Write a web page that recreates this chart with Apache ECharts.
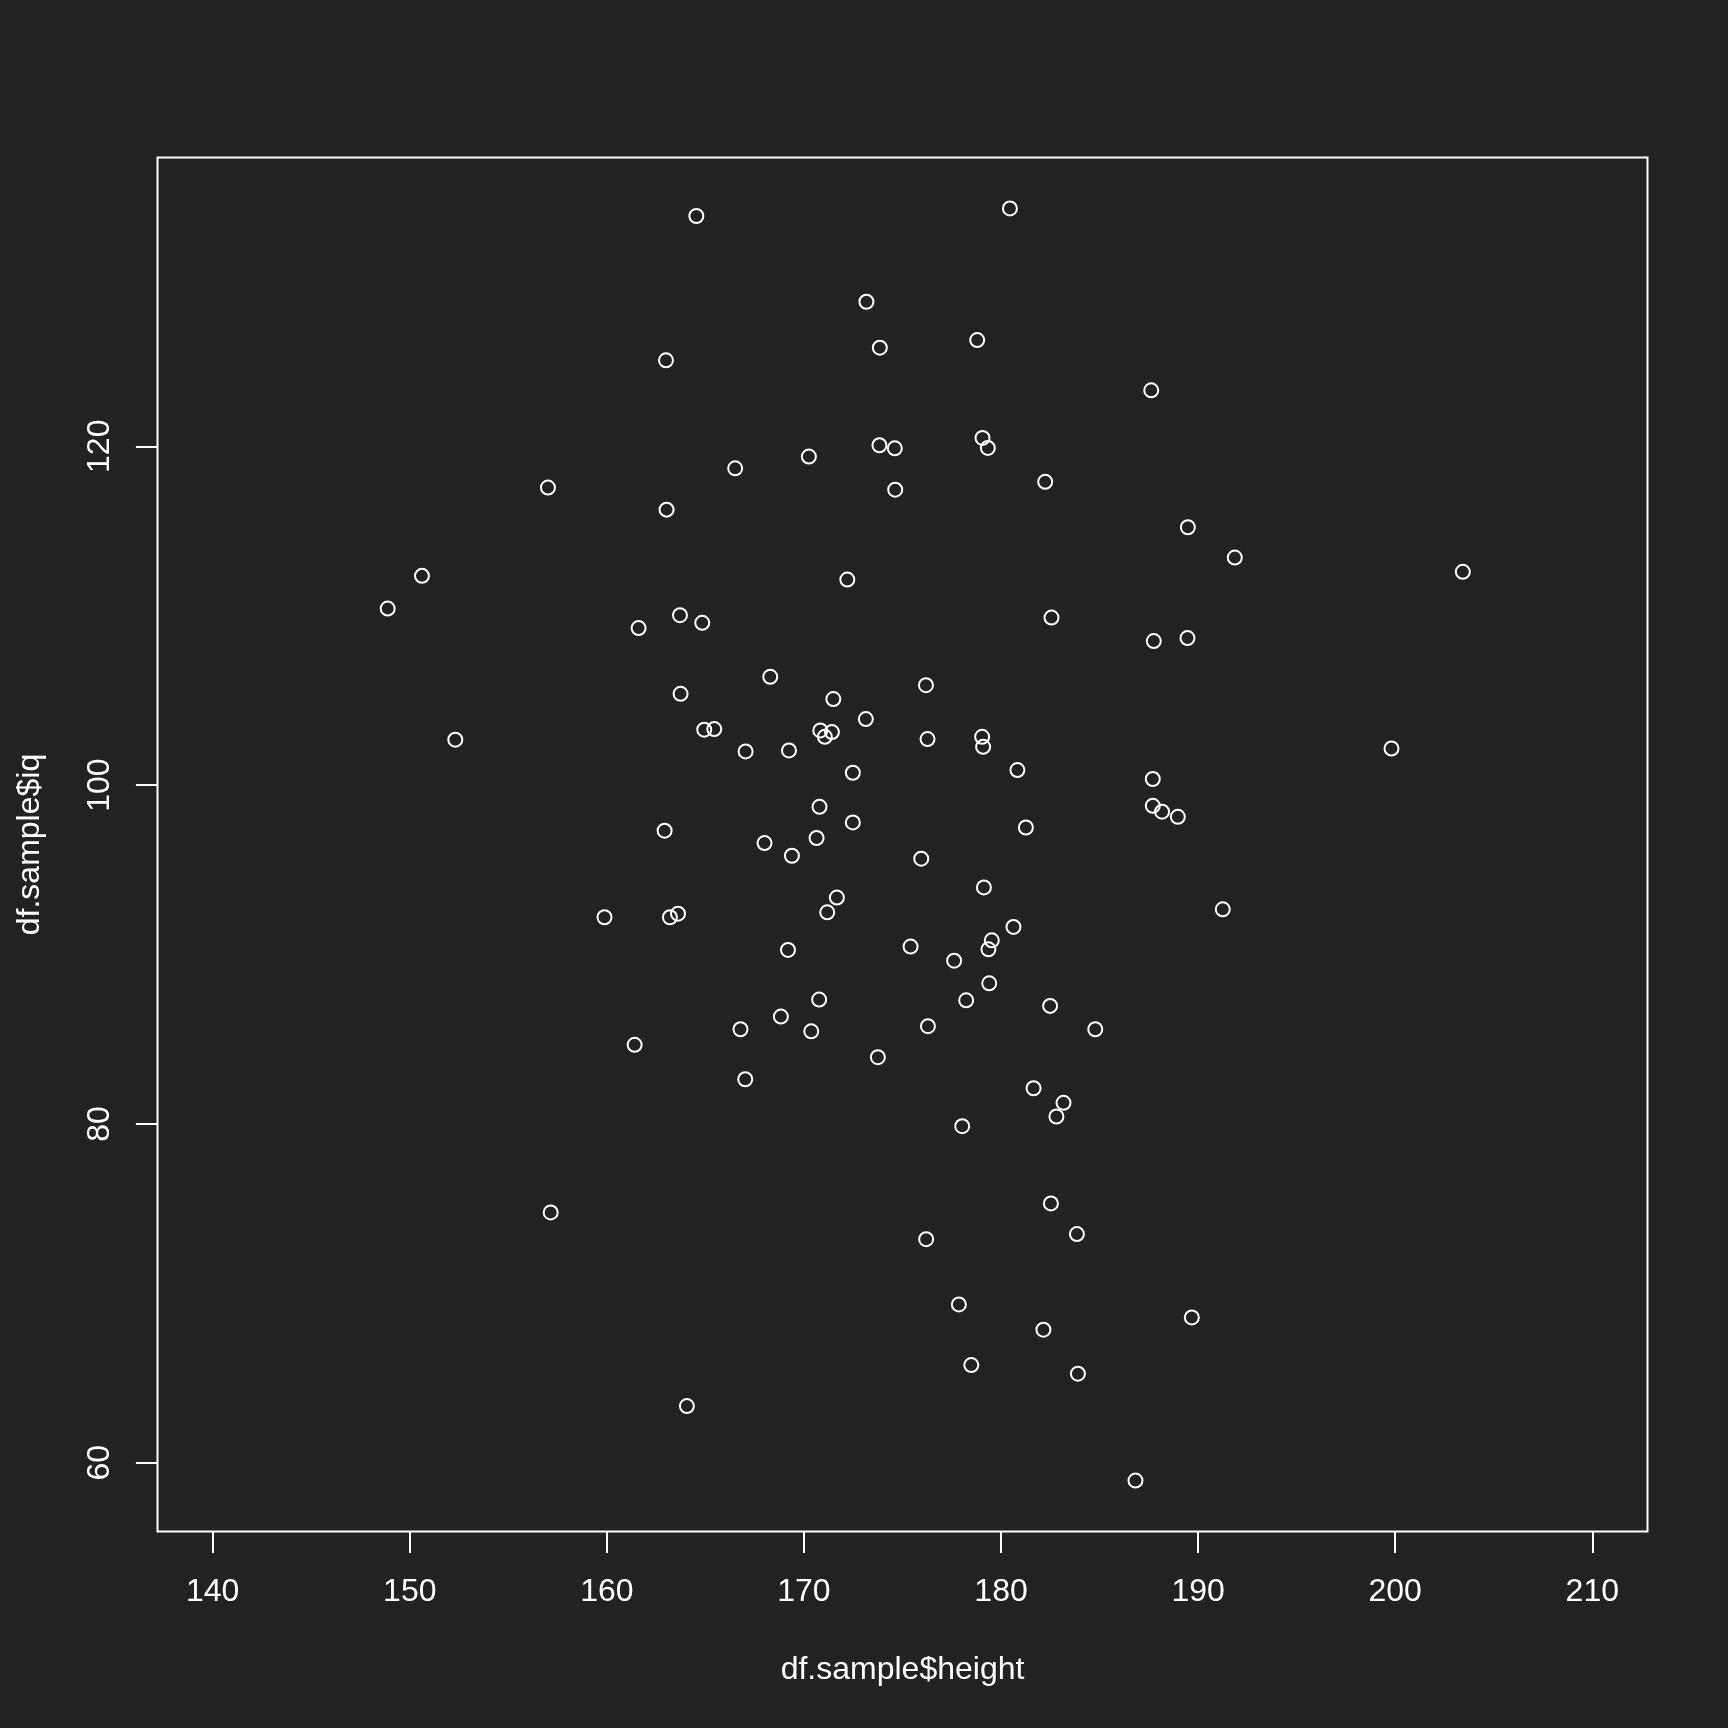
<!DOCTYPE html>
<html>
<head>
<meta charset="utf-8">
<script src="https://cdn.jsdelivr.net/npm/echarts@6/dist/echarts.min.js"></script>
<style>
  html, body { margin: 0; padding: 0; background: #222222; }
  #chart { width: 1728px; height: 1728px; }
</style>
</head>
<body>
<div id="chart"></div>
<script>
// Data
const height = [
  157.01, 150.62, 148.88, 164.54, 180.45, 173.17, 173.85, 178.79, 163.00, 187.62,
  173.83, 174.61, 179.06, 179.33, 170.25, 166.51, 174.63, 182.24, 163.03, 172.20,
  189.48, 191.86, 203.43, 161.61, 152.31, 159.88, 161.41, 163.71, 164.84, 182.56,
  187.75, 168.29, 176.19, 163.74, 171.49, 173.14, 164.94, 165.45, 170.83, 171.42,
  171.06, 176.27, 179.04, 179.09, 167.04, 169.24, 180.83, 187.70, 172.48, 170.79,
  187.70, 188.17, 188.97, 172.48, 181.26, 162.93, 170.64, 168.00, 169.39, 175.95,
  179.13, 171.67, 171.18, 163.61, 163.20, 180.63, 169.19, 175.41, 179.53, 179.36,
  177.62, 179.40, 170.77, 178.23, 182.49, 168.83, 166.78, 170.37, 176.29, 184.78,
  173.75, 167.02, 189.46, 199.81, 191.25, 181.65, 183.17, 182.81, 178.03, 182.53,
  183.85, 176.20, 177.86, 182.15, 178.49, 183.90, 164.06, 186.82, 189.68, 157.15
];
const iq = [
  117.56, 112.35, 110.42, 133.59, 134.04, 128.53, 125.82, 126.27, 125.07, 123.30,
  120.06, 119.88, 120.49, 119.90, 119.39, 118.70, 117.44, 117.90, 116.26, 112.13,
  115.22, 113.43, 112.59, 109.27, 102.68, 92.20, 84.67, 110.03, 109.58, 109.89,
  108.50, 106.39, 105.90, 105.39, 105.08, 103.90, 103.27, 103.31, 103.23, 103.13,
  102.85, 102.72, 102.85, 102.26, 101.99, 102.05, 100.89, 100.36, 100.73, 98.72,
  98.78, 98.43, 98.13, 97.80, 97.50, 97.31, 96.88, 96.58, 95.83, 95.66,
  93.96, 93.36, 92.49, 92.41, 92.20, 91.63, 90.27, 90.47, 90.84, 90.31,
  89.64, 88.30, 87.34, 87.30, 86.97, 86.34, 85.59, 85.47, 85.77, 85.59,
  83.94, 82.64, 108.68, 102.16, 92.67, 82.11, 81.25, 80.44, 79.87, 75.31,
  73.50, 73.20, 69.35, 67.86, 65.77, 65.26, 63.35, 58.95, 68.58, 74.78
];
const xTicks = [140, 150, 160, 170, 180, 190, 200, 210];
const yTicks = [60, 80, 100, 120];
const xLim = [140, 210];

// R-style 4% axis expansion
function expand(lo, hi) { const d = (hi - lo) * 0.04; return [lo - d, hi + d]; }
const xr = expand(xLim[0], xLim[1]);
const yr = expand(Math.min.apply(null, iq), Math.max.apply(null, iq));

const points = height.map((h, i) => [h, iq[i]]);
const FONT = '"Liberation Sans", Arial, Helvetica, sans-serif';
const FG = '#ffffff';
const FS = 32;

const chart = echarts.init(document.getElementById('chart'), null, { renderer: 'canvas' });
chart.setOption({
  backgroundColor: '#222222',
  animation: false,
  grid: {
    left: 157.5, right: 80.5, top: 157.5, bottom: 196.5,
    show: true, borderColor: FG, borderWidth: 2, backgroundColor: 'transparent',
    outerBoundsMode: 'none', containLabel: false
  },
  xAxis: {
    type: 'value', min: xr[0], max: xr[1],
    axisLine: { show: false },
    splitLine: { show: false },
    axisTick: { show: true, customValues: xTicks, length: 21.6, lineStyle: { color: FG, width: 2 } },
    axisLabel: { customValues: xTicks, color: FG, fontSize: FS, fontFamily: FONT, margin: 45 },
    name: 'df.sample$height', nameLocation: 'middle', nameGap: 123,
    nameTextStyle: { color: FG, fontSize: FS, fontFamily: FONT }
  },
  yAxis: {
    type: 'value', min: yr[0], max: yr[1],
    axisLine: { show: false },
    splitLine: { show: false },
    axisTick: { show: true, customValues: yTicks, length: 21.6, lineStyle: { color: FG, width: 2 } },
    axisLabel: { customValues: yTicks, color: FG, fontSize: FS, fontFamily: FONT, margin: 41, rotate: 90 },
    name: 'df.sample$iq', nameLocation: 'middle', nameGap: 111,
    nameTextStyle: { color: FG, fontSize: FS, fontFamily: FONT }
  },
  series: [{
    type: 'scatter',
    data: points,
    symbol: 'circle',
    symbolSize: 14,
    silent: true,
    itemStyle: { color: 'rgba(0,0,0,0)', borderColor: FG, borderWidth: 2, opacity: 1 },
    emphasis: { disabled: true }
  }]
});
</script>
</body>
</html>
